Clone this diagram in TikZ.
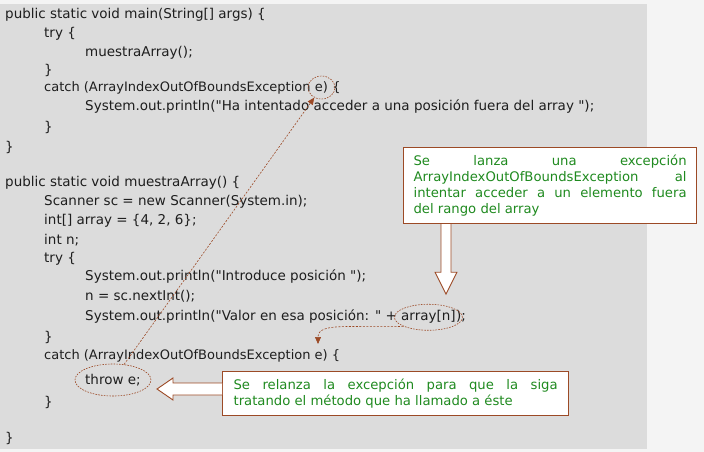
\documentclass[tikz,border=0pt]{standalone}
\usepackage{fontspec}
\setmainfont{DejaVu Sans}[Ligatures=TeXOff]
\usetikzlibrary{calc,positioning,shapes.geometric,arrows.meta}
\definecolor{page}{HTML}{F4F4F4}
\definecolor{panel}{HTML}{DCDCDC}
\definecolor{ink}{HTML}{1E1E1E}
\definecolor{rim}{HTML}{9C4A26}
\definecolor{note}{HTML}{1F8A1F}

\tikzset{
  code/.style={anchor=west, inner sep=0pt, text=ink, font=\fontsize{13.5}{15}\selectfont},
  catchline/.style={code, font=\fontsize{13}{15}\selectfont},
  ring/.style={draw=rim, ellipse, inner sep=0pt, dash pattern=on 1.6pt off 1.2pt, line width=0.6pt},
  hint/.style={draw=rim, dash pattern=on 2pt off 1.5pt, line width=0.6pt, -{Triangle[length=7pt,width=6pt]}},
  notebox/.style={draw=rim, line width=1.2pt, fill=white, text=note, align=justify, anchor=north west,
    inner xsep=10pt, inner ysep=5pt, font=\fontsize{13.2}{15.8}\selectfont},
  hollow/.style={draw=rim, line width=0.9pt, fill=white},
}

\begin{document}
\begin{tikzpicture}[x=1pt,y=-1pt]
            \fill[page] (0,0) rectangle (704,452);
            \fill[panel] (0,4) rectangle (647,449);

            % main
            \node[code] (l1) at (5,15) {public static void main(String[] args) \{};
            \node[code] (l2) at (44,34) {try \{};
            \node[code] (l3) at (85,53) {muestraArray();};
            \node[code] (l4) at (44,70) {\}};
            \node[catchline] (l5) at (44,88) {catch (ArrayIndexOutOfBoundsException};
            \node[catchline, base right=4pt of l5] (l5e) {e)};
            \node[catchline, base right=4pt of l5e] (l5b) {\{};
            \node[code] (l6) at (85,107) {System.out.println("Ha intentado acceder a una posición fuera del array ");};
            \node[code] (l7) at (44,127) {\}};
            \node[code] (l8) at (5,147) {\}};

            % muestraArray
            \node[code] (l9) at (5,183) {public static void muestraArray() \{};
            \node[code] (l10) at (44,202) {Scanner sc = new Scanner(System.in);};
            \node[code] (l11) at (44,221) {int[] array = \{4, 2, 6\};};
            \node[code] (l12) at (44,240) {int n;};
            \node[code] (l13) at (44,259) {try \{};
            \node[code] (l14) at (85,277) {System.out.println("Introduce posición ");};
            \node[code] (l15) at (85,296) {n = sc.nextInt();};
            \node[code] (l16) at (85,317) {System.out.println("Valor en esa posición: " +};
            \node[code, base right=4pt of l16] (l16a) {array[n]};
            \node[code, base right=0pt of l16a] (l16b) {);};
            \node[code] (l17) at (44,337) {\}};
            \node[catchline] (l18) at (44,356) {catch (ArrayIndexOutOfBoundsException e) \{};
            \node[code] (l19) at (85,380) {throw e;};
            \node[code] (l20) at (44,402) {\}};
            \node[code] (l21) at (5,438) {\}};

            \node[ring, minimum width=27pt, minimum height=23pt] (ringE) at (l5e) {};
            \node[ring, minimum width=76pt, minimum height=32pt] (ringThrow) at (l19) {};
            \node[ring, minimum width=68pt, minimum height=26pt] (ringArr) at (l16a) {};
            \coordinate (drop) at (318,344);

            \draw[hint] (ringThrow) -- (ringE);
            \draw[hint] (ringArr.200) .. controls (350,328) and (318,322) .. (drop);

            \node[notebox, text width=273pt, minimum height=76pt] (lanza) at (403,147)
              {Se lanza una excepción\linebreak ArrayIndexOutOfBoundsException al\linebreak intentar acceder a un elemento fuera\linebreak del rango del array};
            \node[notebox, inner xsep=11pt, text width=324pt, minimum height=44pt] (relanza) at (222,371)
              {Se relanza la excepción para que la siga\linebreak tratando el método que ha llamado a éste};

            \filldraw[hollow] ($(lanza.south west)+(38,0)$) -- ++(0,48) -- ++(-6,0) -- ++(11,22) -- ++(11,-22) -- ++(-6,0) -- ++(0,-48);
            \filldraw[hollow] ($(relanza.north west)+(0,12)$) -- ++(-49,0) -- ++(0,-5) -- ++(-16,11) -- ++(16,11) -- ++(0,-5) -- ++(49,0);
            % \draw (l16.east) -- (lanza.south);
        \end{tikzpicture}
\end{document}
